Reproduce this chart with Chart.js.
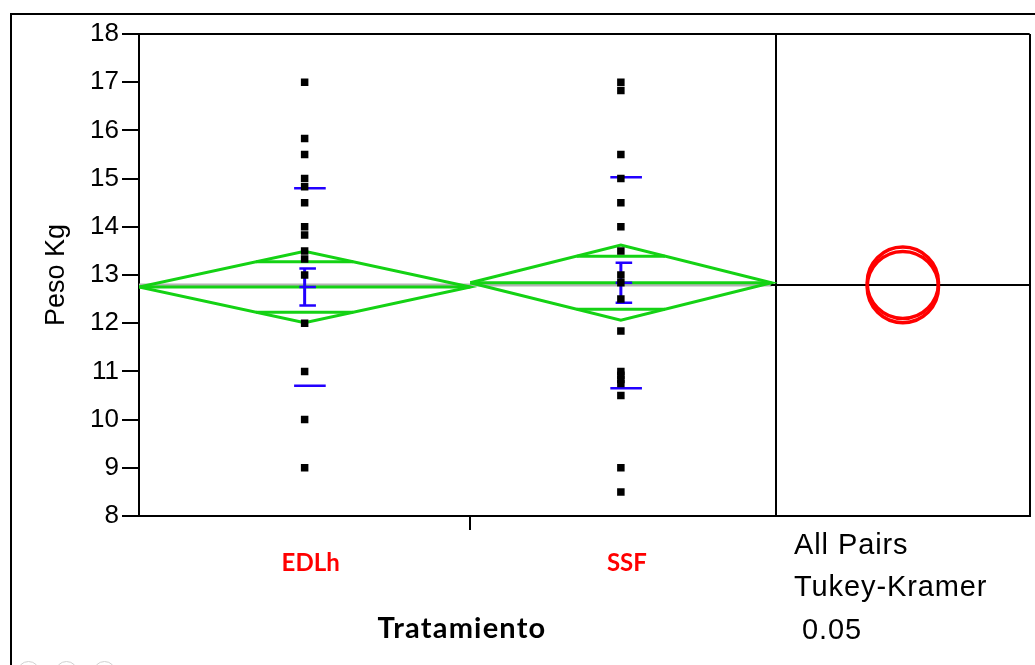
<!DOCTYPE html>
<html>
<head>
<meta charset="utf-8">
<title>Peso Kg por Tratamiento</title>
<script src="https://cdn.jsdelivr.net/npm/chart.js@4.4.0/dist/chart.umd.min.js"></script>
<style>
  html, body { margin: 0; padding: 0; background: #fff; }
  #wrap { position: relative; width: 1035px; height: 665px; overflow: hidden; }
  #frame { position: absolute; left: 10px; top: 13px; width: 1100px; height: 700px; border-left: 2px solid #000; border-top: 2px solid #000; }
  #chart { position: absolute; left: 0; top: 0; }
  .note { position: absolute; font-family: 'Liberation Sans', Arial, sans-serif; font-size: 29px; line-height: 29px; letter-spacing: 0.9px; color: #000; white-space: nowrap; }
  #xtitle { position: absolute; left: 352px; width: 220px; top: 612px; text-align: center; font: bold 29px Lato, sans-serif; line-height: 29px; letter-spacing: 1.2px; color: #000; }
  .dot { position: absolute; top: 661px; width: 21px; height: 21px; border: 1px solid #d0d0d0; border-radius: 50%; }
</style>
</head>
<body>
<div id="wrap">
  <div id="frame"></div>
  <canvas id="chart" width="1035" height="665"></canvas>
  <div id="xtitle">Tratamiento</div>
  <div class="note" style="left:794px; top:530px;">All Pairs</div>
  <div class="note" style="left:794px; top:572px;">Tukey-Kramer</div>
  <div class="note" style="left:802px; top:615px;">0.05</div>
  <div class="dot" style="left:17px;"></div>
  <div class="dot" style="left:55px;"></div>
  <div class="dot" style="left:93px;"></div>
</div>
<script>
// data
const groups = ["EDLh", "SSF"]
const pesoEDLh = [17, 15.83, 15.5, 15, 14.83, 14.5, 14, 13.83, 13.5, 13.33, 13, 12, 11, 10, 9]
const pesoSSF = [17, 16.83, 15.5, 15, 14.5, 14, 13.5, 13, 12.84, 12.5, 11.84, 11, 10.92, 10.83, 10.75, 10.5, 9, 8.5]
const means = [12.75, 12.84]
const ci95 = [0.74, 0.78]      // half width of the means diamonds
const sdev = [2.05, 2.19]      // std dev lines
const sem = [0.385, 0.415]     // std error bars
const grandMean = 12.79
const circleRadius = [0.74, 0.74]  // Tukey-Kramer comparison circles
const yMin = 8, yMax = 18

// x layout (JMP sizes each band by group n)
const span = [22, 20]
const panelStart = 42.3
const xMax = 59.15
const bandStart = [0, span[0]]
const centers = [span[0] / 2, span[0] + span[1] / 2]
const circleX = (panelStart + xMax) / 2

const GREEN = "#14d214"
const BLUE = "#2200ff"

// helper for a plain line
function line(data, color, width) {
    return { data, showLine: true, borderColor: color, borderWidth: width, pointRadius: 0, tension: 0, fill: false }
}

const series = [pesoEDLh, pesoSSF]
const datasets = []

// raw points on top
series.forEach((vals, g) => {
    datasets.push({
        data: vals.map(v => ({ x: centers[g], y: v })),
        pointStyle: "rect", pointRadius: 5.3, pointBackgroundColor: "#000", pointBorderWidth: 0,
    })
})

// std dev lines and std error bars
series.forEach((vals, g) => {
    const c = centers[g], m = means[g]
    datasets.push(line([{ x: c - 0.7, y: m + sdev[g] }, { x: c + 1.4, y: m + sdev[g] }], BLUE, 2.5))
    datasets.push(line([{ x: c - 0.7, y: m - sdev[g] }, { x: c + 1.4, y: m - sdev[g] }], BLUE, 2.5))
    datasets.push(line([{ x: c, y: m - sem[g] }, { x: c, y: m + sem[g] }], BLUE, 3))
    ;[m - sem[g], m, m + sem[g]].forEach(y => {
        datasets.push(line([{ x: c - 0.35, y }, { x: c + 0.75, y }], BLUE, 2.5))
    })
})

// means diamonds with overlap marks
series.forEach((vals, g) => {
    const x0 = bandStart[g], x1 = bandStart[g] + span[g], c = centers[g], m = means[g], h = ci95[g]
    datasets.push(line([{ x: x0, y: m }, { x: c, y: m + h }, { x: x1, y: m }, { x: c, y: m - h }, { x: x0, y: m }], GREEN, 3))
    datasets.push(line([{ x: x0, y: m }, { x: x1, y: m }], GREEN, 3))
    const off = h / Math.SQRT2
    const hw = (span[g] / 2) * (1 - 1 / Math.SQRT2)
    datasets.push(line([{ x: c - hw, y: m + off }, { x: c + hw, y: m + off }], GREEN, 3))
    datasets.push(line([{ x: c - hw, y: m - off }, { x: c + hw, y: m - off }], GREEN, 3))
})

// comparison circles
datasets.push({
    data: means.map(m => ({ x: circleX, y: m })),
    pointStyle: "circle",
    pointRadius: ctx => {
        const y = ctx.chart.scales.y
        return Math.abs(y.getPixelForValue(yMin + circleRadius[ctx.dataIndex]) - y.getPixelForValue(yMin))
    },
    pointBorderColor: "#ff0000", pointBorderWidth: 3.5, pointBackgroundColor: "rgba(0,0,0,0)",
})

// grand mean
datasets.push(line([{ x: panelStart - 0.35, y: grandMean }, { x: xMax, y: grandMean }], "#000", 2))
datasets.push(line([{ x: 0, y: grandMean }, { x: span[0] + span[1], y: grandMean }], "#b4b4b4", 3))

new Chart(document.getElementById("chart"), {
    type: "scatter",
    data: { datasets },
    options: {
        responsive: false,
        animation: false,
        devicePixelRatio: 1,
        layout: { padding: { left: 10, top: 34, right: 5, bottom: 0 } },
        plugins: { legend: { display: false }, tooltip: { enabled: false } },
        events: [],
        scales: {
            x: {
                type: "linear", min: 0, max: xMax,
                afterFit: s => { s.height = 149; s.paddingLeft = 0; s.paddingRight = 0 },
                afterBuildTicks: s => {
                    s.ticks = [centers[0], span[0], centers[1], panelStart, xMax].map(v => ({ value: v }))
                },
                ticks: {
                    autoSkip: false, maxRotation: 0, padding: 19, labelOffset: 6, color: "#ff0000",
                    font: { family: "Lato", weight: "bold", size: 24 },
                    callback: v => (v === centers[0] ? groups[0] : v === centers[1] ? groups[1] : ""),
                },
                grid: {
                    drawOnChartArea: true,
                    color: ctx => (ctx.tick && (ctx.tick.value === panelStart || ctx.tick.value === xMax) ? "#000" : "rgba(0,0,0,0)"),
                    tickColor: ctx => (ctx.tick && ctx.tick.value === span[0] ? "#000" : "rgba(0,0,0,0)"),
                    lineWidth: 2, tickWidth: 2, tickLength: 14,
                },
                border: { color: "#000", width: 2 },
            },
            y: {
                min: yMin, max: yMax,
                afterFit: s => { s.width = 129; s.paddingTop = 0; s.paddingBottom = 0 },
                ticks: { stepSize: 1, color: "#000", padding: 3, font: { family: "Liberation Sans", size: 26 } },
                grid: {
                    drawOnChartArea: true,
                    color: ctx => (ctx.tick && ctx.tick.value === yMax ? "#000" : "rgba(0,0,0,0)"),
                    tickColor: "#000", lineWidth: 2, tickWidth: 2, tickLength: 17,
                },
                border: { color: "#000", width: 2 },
                title: {
                    display: true, text: "Peso Kg", color: "#000",
                    font: { family: "Liberation Sans", size: 27 },
                    padding: { top: 30, bottom: 0 },
                },
            },
        },
    },
})
</script>
</body>
</html>
